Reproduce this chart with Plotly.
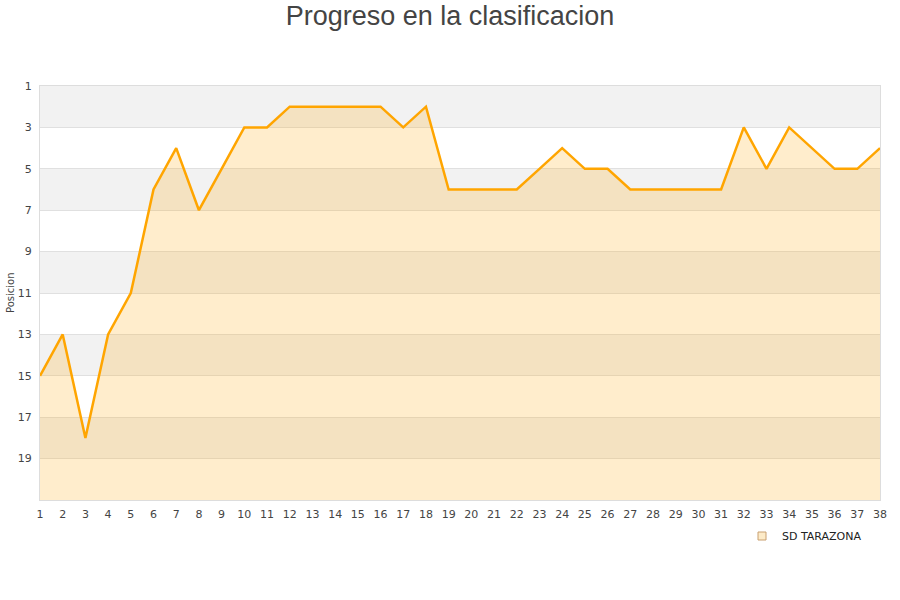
import plotly.graph_objects as go

jornadas = list(range(1, 39))
posiciones = [15, 13, 18, 13, 11, 6, 4, 7, 5, 3, 3, 2, 2, 2, 2, 2, 3, 2, 6, 6,
              6, 6, 5, 4, 5, 5, 6, 6, 6, 6, 6, 3, 5, 3, 4, 5, 5, 4]
equipo = "SD TARAZONA"
y_ticks = [1, 3, 5, 7, 9, 11, 13, 15, 17, 19]
bandas = [(1, 3), (5, 7), (9, 11), (13, 15), (17, 19)]
fondo = 21

fig = go.Figure()
fig.add_trace(go.Scatter(x=jornadas, y=[fondo] * len(jornadas), mode="lines",
                         line=dict(width=0), showlegend=False, hoverinfo="skip"))
fig.add_trace(go.Scatter(x=jornadas, y=posiciones, mode="lines", fill="tonexty",
                         fillcolor="rgba(255,165,0,0.2)",
                         line=dict(color="#FFA500", width=2.5), showlegend=False))
fig.add_trace(go.Scatter(x=[None], y=[None], mode="markers", name=equipo,
                         marker=dict(symbol="square", size=8, color="#fdebc8",
                                     line=dict(color="#c9a070", width=1))))

for a, b in bandas:
    fig.add_shape(type="rect", xref="paper", x0=0, x1=1, yref="y", y0=a, y1=b,
                  fillcolor="#f2f2f2", line=dict(width=0), layer="below")

fig.add_annotation(text="Posicion", xref="paper", x=-30/840, xanchor="center", yref="paper", y=0.5,
                   yanchor="middle", textangle=-90, showarrow=False,
                   font=dict(family="DejaVu Sans", size=10, color="#444"))

fig.update_layout(
    width=900, height=600,
    margin=dict(l=40, r=20, t=86, b=100),
    paper_bgcolor="white", plot_bgcolor="white",
    title=dict(text="Progreso en la clasificacion", x=0.5, xanchor="center", xref="container",
               y=0.974, yanchor="middle", yref="container",
               font=dict(family="Liberation Sans, Arial", size=27, color="#444")),
    font=dict(family="DejaVu Sans", size=11, color="#444"),
    legend=dict(xref="container", x=742/900, xanchor="left", yref="container", y=1 - 536/600,
                yanchor="middle", orientation="h", itemwidth=30,
                font=dict(size=11, color="#222"), bgcolor="rgba(0,0,0,0)"),
    showlegend=True,
)
fig.update_xaxes(range=[1, 38], tickmode="array", tickvals=jornadas, ticktext=[str(j) for j in jornadas],
                 showgrid=False, showline=True, linecolor="#ddd", mirror=True, zeroline=False,
                 ticks="outside", ticklen=4, tickcolor="rgba(0,0,0,0)", automargin=False,
                 tickfont=dict(size=11, color="#444"))
fig.update_yaxes(range=[fondo, 1], tickmode="array", tickvals=y_ticks,
                 showgrid=True, gridcolor="#e0e0e0", showline=True, linecolor="#ddd", mirror=True,
                 zeroline=False, ticks="outside", ticklen=5, tickcolor="rgba(0,0,0,0)", automargin=False,
                 tickfont=dict(size=11, color="#444"))

fig.write_html("out.html", config={"displayModeBar": False},
               post_script="document.body.style.margin='0px';")
